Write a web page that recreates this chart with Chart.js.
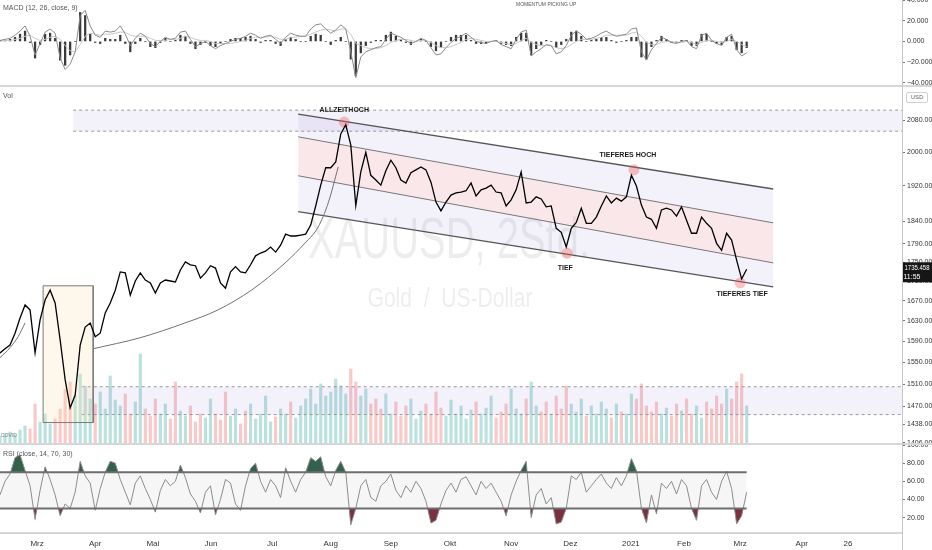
<!DOCTYPE html>
<html>
<head>
<meta charset="utf-8">
<script src="https://cdn.jsdelivr.net/npm/chart.js@4.4.1/dist/chart.umd.min.js"></script>
<style>
  body { margin: 0; background: #fff; }
  #wrap { position: relative; width: 932px; height: 550px; overflow: hidden; background: #fff; font-family: 'Liberation Sans', Arial, sans-serif; }
  canvas { position: absolute; left: 0; }
  .sep { position: absolute; left: 0; width: 932px; height: 2px; background: #d6d6d6; }
  .vline { position: absolute; left: 902px; top: 0; width: 1px; height: 550px; background: #c6c6c6; }
  .ttl { position: absolute; font-size: 7px; color: #555; white-space: nowrap; }
  .usd { position: absolute; left: 906px; top: 92px; width: 20px; height: 9px; border: 1px solid #d0d0d0; border-radius: 2px; font-size: 6px; line-height: 9px; text-align: center; color: #666; background: #fff; }
</style>
</head>
<body>
<div id="wrap">
  <canvas id="macdChart" width="932" height="86" style="top:0"></canvas>
  <canvas id="priceChart" width="932" height="357" style="top:87px"></canvas>
  <canvas id="rsiChart" width="932" height="105" style="top:445px"></canvas>
  <div class="sep" style="top:85px"></div>
  <div class="sep" style="top:443px"></div>
  <div class="sep" style="top:532px; width:903px"></div>
  <div class="vline"></div>
  <div class="ttl" style="left:3px; top:4px">MACD (12, 26, close, 9)</div>
  <div class="ttl" style="left:516px; top:1px; font-size:5px">MOMENTUM PICKING UP</div>
  <div class="ttl" style="left:3px; top:92px">Vol</div>
  <div class="ttl" style="left:1px; top:432px; font-size:5px; color:#777">COVID</div>
  <div class="ttl" style="left:3px; top:450px">RSI (close, 14, 70, 30)</div>
  <div class="usd">USD</div>
</div>
<script>
// one slot = about 2.5 trading days of the 2h chart, 180 slots across the pane
var xMax = 180;
var monthTicks = [7.4, 19, 30.5, 42.1, 54.3, 66, 78, 89.8, 102, 113.8, 125.9, 136.5, 147.7, 160, 169.2];
var monthLabels = ['Mrz', 'Apr', 'Mai', 'Jun', 'Jul', 'Aug', 'Sep', 'Okt', 'Nov', 'Dez', '2021', 'Feb', 'Mrz', 'Apr', '26'];

var priceTicks = [2080, 2000, 1920, 1840, 1790, 1750, 1710, 1670, 1630, 1590, 1550, 1510, 1470, 1438, 1406];
var macdTicks = [40, 20, 0, -20, -40];
var rsiTicks = [100, 80, 60, 40, 20];

var closes = [
    1568, 1576, 1583, 1606, 1636, 1662, 1652, 1568, 1632, 1672,
    1692, 1666, 1593, 1518, 1467, 1490, 1583, 1618, 1626, 1599,
    1606, 1646, 1666, 1692, 1730, 1728, 1682, 1711, 1728, 1713,
    1707, 1686, 1707, 1713, 1711, 1709, 1734, 1751, 1745, 1743,
    1717, 1728, 1743, 1738, 1707, 1696, 1730, 1741, 1730, 1728,
    1745, 1764, 1770, 1774, 1783, 1772, 1787, 1811, 1807, 1807,
    1809, 1811, 1831, 1874, 1922, 1963, 1963, 1977, 2045, 2068,
    2018, 1875, 1953, 2000, 1945, 1934, 1922, 1956, 1981, 1963,
    1934, 1927, 1951, 1958, 1965, 1958, 1929, 1883, 1863, 1883,
    1899, 1904, 1906, 1909, 1927, 1897, 1911, 1915, 1922, 1906,
    1904, 1874, 1888, 1911, 1953, 1881, 1883, 1895, 1890, 1872,
    1874, 1824, 1815, 1783, 1824, 1837, 1869, 1835, 1835, 1849,
    1874, 1897, 1881, 1892, 1885, 1895, 1945, 1920, 1876, 1849,
    1844, 1824, 1865, 1869, 1865, 1851, 1872, 1842, 1813, 1813,
    1849, 1835, 1824, 1791, 1776, 1813, 1798, 1755, 1715, 1735.458
];
var volumes = [
    8, 10, 12, 9, 14, 18, 15, 40, 22, 30,
    20, 25, 35, 55, 62, 48, 70, 58, 45, 40,
    52, 35, 68, 44, 38, 50, 30, 42, 90, 35,
    28, 45, 30, 40, 25, 62, 33, 28, 38, 22,
    30, 26, 45, 30, 24, 52, 28, 35, 20, 33,
    40, 25, 30, 48, 22, 27, 35, 30, 42, 26,
    38, 45, 55, 40, 60, 48, 52, 65, 58, 50,
    75, 62, 48, 55, 40, 45, 35, 50, 30, 42,
    28, 38, 45, 25, 33, 40, 30, 52, 36, 28,
    44, 30, 38, 25, 34, 42, 30, 36, 48, 26,
    32, 40, 55, 35, 30, 45, 62, 38, 32, 42,
    30, 48, 35, 58, 40, 32, 45, 28, 38, 30,
    42, 35, 26, 40, 32, 30, 50, 45, 60, 38,
    32, 42, 30, 36, 28, 40, 33, 45, 30, 38,
    26, 42, 35, 48, 40, 55, 45, 62, 70, 38
];
var macdLine = [
    1, 2, 3, 6, 10, 15, 5, -13, -2, 9,
    12, 8, -16, -27, -22, -10, 25, 30, 15, 6,
    4, 10, 9, 10, 15, 7, -4, 3, 8, 5,
    -2, -5, 0, 4, 2, 3, 9, 10, 2, -5,
    -2, 0, -4, -7, -4, -2, 0, 2, 3, 5,
    8, 6, 3, 5, 6, 2, -2, 4, 8, 6,
    5, 5, 12, 16, 17, 12, 8, 11, 16, 12,
    -10, -35, -15, -10, -8, -6, -5, 2, 8, 6,
    4, 1, -2, 0, 3, 1, -6, -13, -12, -6,
    -1, 3, 5, 8, 4, 0, -1, -2, 0, 1,
    -3, -5, -7, 2, 9, 11, -14, -10, -7, -3,
    -4, -12, -10, -4, 6, 10, 7, 2, 3, 5,
    8, 10, 7, 5, 6, 7, 12, 13, -10, -18,
    -8, -2, 4, 2, -1, -2, 0, 1, -5, -7,
    6, 8, 1, -2, -4, 4, 7, -8, -14, -11
];
var signalLine = [
    0, 1, 1, 2, 3, 5, 6, 3, 1, 2,
    4, 5, 2, -4, -9, -10, -3, 5, 8, 7,
    6, 7, 7, 8, 9, 9, 6, 5, 5, 5,
    3, 1, 1, 1, 2, 2, 3, 5, 4, 2,
    1, 1, 0, -2, -2, -2, -2, -1, 0, 1,
    3, 4, 4, 4, 5, 4, 2, 2, 4, 4,
    5, 5, 7, 9, 11, 12, 11, 10, 12, 12,
    7, -2, -4, -6, -7, -7, -6, -4, -1, 1,
    2, 2, 1, 0, 1, 1, -1, -4, -6, -6,
    -5, -3, -1, 2, 3, 2, 1, 0, 0, 0,
    -1, -2, -3, -2, 1, 3, -1, -3, -4, -4,
    -4, -6, -7, -6, -3, 0, 2, 2, 2, 3,
    4, 6, 6, 6, 6, 6, 8, 9, 5, -1,
    -3, -3, -1, 0, 0, -1, -1, 0, -1, -3,
    -1, 1, 1, 0, -1, 0, 2, 0, -3, -5
];
var rsiValues = [
    45, 60, 68, 86, 89, 72, 55, 18, 50, 76,
    62, 45, 22, 35, 30, 48, 82, 66, 58, 28,
    52, 70, 82, 80, 62, 48, 34, 58, 66, 52,
    40, 26, 50, 62, 55, 60, 78, 64, 46, 38,
    25, 48, 55, 23, 40, 62, 58, 35, 28, 55,
    74, 80, 60, 48, 62, 55, 42, 75, 60, 48,
    62, 70, 86, 82, 87, 65, 55, 72, 82, 70,
    12, 30, 55, 62, 42, 38, 55, 60, 68, 50,
    42, 55, 48, 60, 52, 38, 14, 17, 35, 50,
    58, 48, 62, 65, 55, 45, 60, 52, 58, 48,
    38, 22, 45, 60, 72, 82, 20, 45, 52, 35,
    42, 13, 15, 30, 66, 62, 70, 48, 55, 62,
    68, 58, 52, 64, 55, 66, 85, 72, 30, 14,
    45, 24, 58, 52, 60, 46, 62, 55, 30, 17,
    55, 62, 48, 40, 60, 71, 52, 13, 22, 48
];

// chart drawings, in slot / price units
var resistanceZone = [2105, 2052];
var resistanceFrom = 14.6;
var supportZone = [1505, 1455];
var supportFrom = 16.3;
var covidBox = { x: [8.6, 18.6], y: [1441, 1701] };
var channelX = [59.5, 154.3];
var channelTop = [2095, 1913];
var channelUpperMid = [2038, 1836];
var channelLowerMid = [1944, 1749];
var channelBottom = [1861, 1699];
var arcX = [18.6, 27.9, 36.9, 43.5, 50.3, 56.9, 60.9, 63.5, 65.5, 67.5];
var arcY = [1576, 1597, 1626, 1652, 1693, 1749, 1792, 1827, 1881, 1965];
var smallArcX = [0, 2, 3.6, 5];
var smallArcY = [1559, 1578, 1599, 1626];
var pivotX = [68.7, 126.5, 113.2, 147.7];
var pivotY = [2075, 1958, 1770, 1707];
var pivotNames = ['ALLZEITHOCH', 'TIEFERES HOCH', 'TIEF', 'TIEFERES TIEF'];

Chart.defaults.font.family = "'Liberation Sans', Arial, sans-serif";

var series = function (arr) {
    return arr.map(function (v, i) { return { x: i, y: v }; });
};
var pairs = function (xs, ys) {
    return xs.map(function (x, i) { return { x: x, y: ys[i] }; });
};
var fmt = function (v, digits) {
    return (v < 0 ? '\u2212' : '') + Math.abs(v).toFixed(digits);
};

var rightAxis = function (type, min, max, ticks, digits) {
    return {
        type: type,
        position: 'right',
        min: min,
        max: max,
        bounds: 'data',
        grid: { drawOnChartArea: false, drawTicks: true, tickLength: 3, color: '#777' },
        border: { display: false },
        ticks: {
            autoSkip: false,
            padding: 2,
            color: '#333',
            font: { size: 7 },
            callback: function (v) { return fmt(v, digits); }
        },
        afterBuildTicks: function (s) {
            s.ticks = ticks.map(function (v) { return { value: v }; });
        },
        afterFit: function (s) {
            s.width = 30;
            s.paddingTop = 0;
            s.paddingBottom = 0;
        }
    };
};

var timeAxis = function (show) {
    return {
        type: 'linear',
        min: 0,
        max: xMax,
        offset: false,
        display: show,
        grid: { display: false, drawTicks: false, offset: false },
        border: { display: false },
        ticks: {
            autoSkip: false,
            maxRotation: 0,
            padding: 6,
            color: '#333',
            font: { size: 8 },
            callback: function (v, i) { return monthLabels[i]; }
        },
        afterBuildTicks: function (s) {
            s.ticks = monthTicks.map(function (v) { return { value: v }; });
        },
        afterFit: function (s) {
            s.height = show ? 17 : 0;
            s.paddingLeft = 0;
            s.paddingRight = 0;
        }
    };
};

var baseOptions = function (scales) {
    return {
        responsive: false,
        animation: false,
        devicePixelRatio: 1,
        layout: { padding: 0, autoPadding: false },
        plugins: { legend: { display: false }, tooltip: { enabled: false } },
        elements: { point: { radius: 0 } },
        scales: scales
    };
};

// MACD pane
new Chart(document.getElementById('macdChart').getContext('2d'), {
    type: 'line',
    data: {
        datasets: [{
            type: 'bar',
            data: series(macdLine.map(function (v, i) { return v - signalLine[i]; })),
            backgroundColor: '#3a3a3a',
            barThickness: 1.6,
            order: 3
        }, {
            data: series(signalLine),
            borderColor: '#c8c8c8',
            borderWidth: 1,
            order: 2
        }, {
            data: series(macdLine),
            borderColor: '#8a8a8a',
            borderWidth: 1,
            order: 1
        }]
    },
    options: baseOptions({ x: timeAxis(false), y: rightAxis('linear', -43, 40, macdTicks, 3) })
});

// price pane: watermark, drawings, labels and last price tag
var fitText = function (ctx, text, cx, baseline, width, font) {
    ctx.font = font;
    var w = ctx.measureText(text).width;
    ctx.save();
    ctx.translate(cx, baseline);
    ctx.scale(width / w, 1);
    ctx.textAlign = 'center';
    ctx.textBaseline = 'alphabetic';
    ctx.fillText(text, 0, 0);
    ctx.restore();
};

var pricePlugin = {
    id: 'pricePlugin',
    beforeDatasetsDraw: function (chart) {
        var ctx = chart.ctx;
        ctx.save();
        ctx.fillStyle = 'rgba(0,0,0,0.07)';
        fitText(ctx, 'XAUUSD, 2Std.', 449, 171, 282, '57px "Liberation Sans"');
        fitText(ctx, 'Gold  /  US-Dollar', 450, 220, 165, '27px "Liberation Sans"');
        ctx.restore();
    },
    afterDatasetsDraw: function (chart) {
        var ctx = chart.ctx;
        var xs = chart.scales.x, ys = chart.scales.y;
        var offs = [[0, -12], [-6, -15], [-2, 15], [2, 11]];
        ctx.save();
        ctx.font = 'bold 7px "Liberation Sans", Arial, sans-serif';
        ctx.fillStyle = '#1a1a1a';
        ctx.textAlign = 'center';
        ctx.textBaseline = 'middle';
        pivotNames.forEach(function (name, i) {
            ctx.fillText(name, xs.getPixelForValue(pivotX[i]) + offs[i][0], ys.getPixelForValue(pivotY[i]) + offs[i][1]);
        });
        // last price tag on the axis
        var last = closes[closes.length - 1];
        var py = ys.getPixelForValue(last);
        ctx.fillStyle = '#161616';
        ctx.fillRect(903, py - 7, 29, 20);
        ctx.fillStyle = '#fff';
        fitText(ctx, last.toFixed(3), 917, py + 1, 25, '7px "Liberation Sans"');
        fitText(ctx, '11:55', 912, py + 10, 17, '7px "Liberation Sans"');
        ctx.restore();
    }
};

var lavender = 'rgba(140,120,210,0.10)';
var dashed = { borderColor: '#9a9a9a', borderWidth: 1, borderDash: [3, 3], order: 5 };

new Chart(document.getElementById('priceChart').getContext('2d'), {
    type: 'line',
    data: {
        datasets: [
            Object.assign({ data: pairs([resistanceFrom, xMax], [resistanceZone[0], resistanceZone[0]]), fill: false }, dashed),
            Object.assign({ data: pairs([resistanceFrom, xMax], [resistanceZone[1], resistanceZone[1]]), fill: '-1', backgroundColor: lavender }, dashed),
            Object.assign({ data: pairs([supportFrom, xMax], [supportZone[0], supportZone[0]]), fill: false }, dashed),
            Object.assign({ data: pairs([supportFrom, xMax], [supportZone[1], supportZone[1]]), fill: '-1', backgroundColor: lavender }, dashed),
            {
                data: pairs([covidBox.x[0], covidBox.x[0], covidBox.x[1], covidBox.x[1], covidBox.x[0]],
                            [covidBox.y[0], covidBox.y[1], covidBox.y[1], covidBox.y[0], covidBox.y[0]]),
                fill: 'shape',
                backgroundColor: 'rgba(250,225,170,0.22)',
                borderColor: '#7a7a7a',
                borderWidth: 1,
                order: 4
            },
            { data: pairs(channelX, channelTop), borderColor: '#555', borderWidth: 1.3, fill: false, order: 3 },
            { data: pairs(channelX, channelUpperMid), borderColor: '#777', borderWidth: 1, fill: '-1', backgroundColor: lavender, order: 3 },
            { data: pairs(channelX, channelLowerMid), borderColor: '#777', borderWidth: 1, fill: '-1', backgroundColor: 'rgba(225,120,135,0.18)', order: 3 },
            { data: pairs(channelX, channelBottom), borderColor: '#555', borderWidth: 1.3, fill: '-1', backgroundColor: lavender, order: 3 },
            { data: pairs(arcX, arcY), borderColor: '#707070', borderWidth: 1, cubicInterpolationMode: 'monotone', fill: false, order: 2 },
            { data: pairs(smallArcX, smallArcY), borderColor: '#707070', borderWidth: 1, cubicInterpolationMode: 'monotone', fill: false, order: 2 },
            {
                type: 'bar',
                yAxisID: 'yVol',
                data: series(volumes),
                barThickness: 2.5,
                backgroundColor: volumes.map(function (v, i) {
                    return i === 0 || closes[i] >= closes[i - 1] ? 'rgba(38,166,154,0.32)' : 'rgba(239,83,80,0.32)';
                }),
                order: 6
            },
            { data: series(closes), borderColor: '#000', borderWidth: 1.3, fill: false, order: 0 },
            {
                type: 'scatter',
                data: pairs(pivotX, pivotY),
                pointRadius: 5.5,
                pointBackgroundColor: 'rgba(239,83,80,0.35)',
                pointBorderWidth: 0,
                order: 1
            }
        ]
    },
    options: baseOptions({
        x: timeAxis(false),
        y: rightAxis('logarithmic', 1404, 2165, priceTicks, 3),
        yVol: { display: false, min: 0, max: 357 }
    }),
    plugins: [pricePlugin]
});

// RSI pane with the 70/30 band
new Chart(document.getElementById('rsiChart').getContext('2d'), {
    type: 'line',
    data: {
        datasets: [{
            data: series(rsiValues),
            borderColor: '#8c8c8c',
            borderWidth: 1,
            fill: { target: { value: 70 }, above: 'rgba(30,80,55,0.9)', below: 'rgba(0,0,0,0)' }
        }, {
            data: series(rsiValues),
            borderWidth: 0,
            borderColor: 'rgba(0,0,0,0)',
            fill: { target: { value: 30 }, above: 'rgba(0,0,0,0)', below: 'rgba(110,25,40,0.9)' }
        }, {
            data: pairs([0, closes.length - 1], [70, 70]),
            borderColor: '#6e6e6e',
            borderWidth: 2,
            fill: false,
            order: -1
        }, {
            data: pairs([0, closes.length - 1], [30, 30]),
            borderColor: '#6e6e6e',
            borderWidth: 2,
            fill: '-1',
            backgroundColor: 'rgba(0,0,0,0.035)',
            order: -1
        }]
    },
    options: baseOptions({
        x: timeAxis(true),
        y: rightAxis('linear', 3, 100, rsiTicks, 2)
    }),
    plugins: [{
        id: 'fillFirst',
        beforeInit: function (chart) { chart.options.plugins.filler = { drawTime: 'beforeDatasetsDraw', propagate: false }; }
    }]
});
</script>
</body>
</html>
